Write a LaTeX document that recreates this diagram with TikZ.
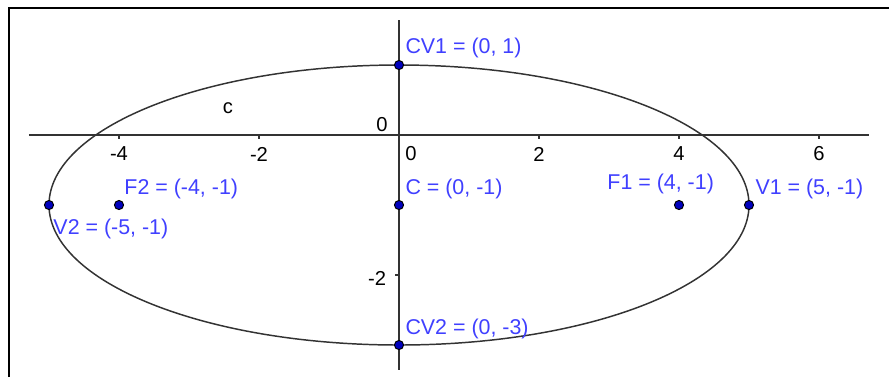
\documentclass[tikz,border=0pt]{standalone}
\usepackage{fontspec}
\setmainfont{Liberation Sans}
\definecolor{ggblue}{RGB}{64,64,255}
\definecolor{ggdot}{RGB}{0,0,190}
\definecolor{ggline}{RGB}{51,51,51}
\usetikzlibrary{positioning}

\begin{document}
\begin{tikzpicture}[x=1cm,y=1cm,
  ptdot/.style={circle,draw=black,fill=ggdot,line width=0.4pt,inner sep=0pt,minimum size=1.3mm},
  ptlbl/.style={text=ggblue,font=\fontsize{8.7}{10}\selectfont,anchor=west,inner sep=0pt},
  axlbl/.style={text=black,font=\fontsize{8.2}{9}\selectfont,inner sep=0pt}]
  \useasboundingbox (-5.7,-3.4571) rectangle (7.0,1.9286);
  % Frame
  \draw[line width=0.8pt] (-5.571,-3.4571) -- (-5.571,1.814) -- (7.0,1.814);
  % Axes
  \draw[ggline,line width=0.5pt] (-5.286,0) -- (6.714,0);
  \draw[ggline,line width=0.5pt] (0,1.643) -- (0,-3.357);
  \foreach \x in {-4,-2,2,4,6} {
    \draw[ggline,line width=0.5pt] (\x,0) -- (\x,-0.06);
    \node[axlbl] (xl\x) at (\x,-0.271) {\x};
  }
  \draw[ggline,line width=0.5pt] (0,-2) -- (-0.06,-2);
  \node[axlbl] (xl0) at (0.171,-0.271) {0};
  \node[axlbl] (yl0) at (-0.243,0.143) {0};
  \node[axlbl] (yl-2) at (-0.314,-2.043) {-2};
  % Ellipse c
  \draw[ggline,line width=0.6pt] (0,-1) ellipse (5 and 2);
  \node[axlbl] (cname) at (-2.443,0.386) {c};
  % Points
  \node[ptdot] (cv1) at (0,1) {};
  \node[ptdot] (c) at (0,-1) {};
  \node[ptdot] (f2) at (-4,-1) {};
  \node[ptdot] (v2) at (-5,-1) {};
  \node[ptdot] (f1) at (4,-1) {};
  \node[ptdot] (v1) at (5,-1) {};
  \node[ptdot] (cv2) at (0,-3) {};
  % Point labels
  \node[ptlbl] (cv1lbl) at (0.086,1.243) {CV1 = (0, 1)};
  \node[ptlbl] (clbl) at (0.086,-0.771) {C = (0, -1)};
  \node[ptlbl] (f2lbl) at (-3.929,-0.771) {F2 = (-4, -1)};
  \node[ptlbl] (v2lbl) at (-4.943,-1.343) {V2 = (-5, -1)};
  \node[ptlbl] (f1lbl) at (2.971,-0.7) {F1 = (4, -1)};
  \node[ptlbl] (v1lbl) at (5.086,-0.771) {V1 = (5, -1)};
  \node[ptlbl] (cv2lbl) at (0.086,-2.771) {CV2 = (0, -3)};
\end{tikzpicture}
\end{document}
